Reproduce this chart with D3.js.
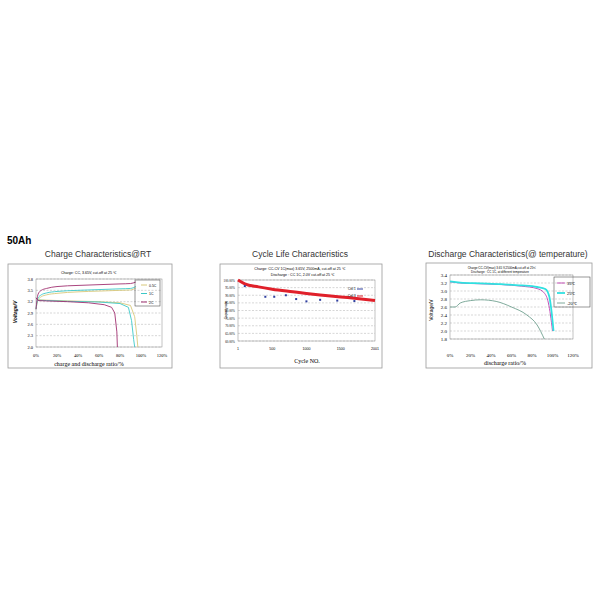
<!DOCTYPE html><html><head><script src="https://cdn.jsdelivr.net/npm/d3@7"></script>
<style>body{margin:0;background:#fff}svg{font-family:"Liberation Sans",Arial,sans-serif}</style></head><body>
<svg id="s" width="600" height="600"></svg>
<script>
// Chart 1: charge/discharge voltage vs ratio %
const c1Ticks=[2.0,2.3,2.6,2.9,3.2,3.5,3.8];
const c1Series=["0.5C","1C","2C"];
const c1Colors=["#d8c87a","#3cc8c8","#a03070"];
const c1ChargeX=[[0,2,5,10,20,40,60,80,90,95],[0,2,5,10,20,40,60,80,90,95],[0,2,5,10,20,40,60,80,90,95]];
const c1ChargeY=[[3.0,3.25,3.33,3.38,3.42,3.46,3.48,3.5,3.51,3.56],[3.0,3.3,3.38,3.43,3.47,3.5,3.52,3.54,3.55,3.6],[3.0,3.4,3.5,3.55,3.6,3.63,3.65,3.67,3.68,3.72]];
const c1DisX=[[0,2,10,30,60,80,90,94,96,97],[0,2,10,30,60,80,88,91,93,94],[0,2,10,30,50,65,72,75,77,77.5]];
const c1DisY=[[3.3,3.25,3.24,3.22,3.2,3.17,3.1,2.8,2.3,2.0],[3.3,3.24,3.23,3.21,3.19,3.15,3.05,2.7,2.2,2.0],[3.3,3.23,3.22,3.2,3.17,3.12,3.05,2.9,2.4,2.0]];
// Chart 2: cycle life
const c2Ticks=[60,65,70,75,80,85,90,95,100];
const c2XTicks=[1,500,1000,1500,2001];
const c2X=[1,100,300,500,800,1000,1200,1500,1800,2001];
const c2Y=[100,97.5,95.5,94,92.3,91.2,90.2,88.9,87.6,86.6];
const c2DotX=[100,400,530,700,850,1000,1200,1450,1700];
const c2DotY=[96,89,89,90,87.5,86,87,86.5,86.2];
// Chart 3: discharge at temperature
const c3Ticks=[1.8,2.0,2.2,2.4,2.6,2.8,3.0,3.2,3.4];
const c3XTicks=[0,20,40,60,80,100,120];
const c3Series=["35℃","25℃","-20℃"];
const c3Colors=["#c040b0","#30e0e0","#70a090"];
const c3X=[[0,10,30,50,70,85,92,96,98,100],[0,10,30,50,70,85,93,97,99,101],[0,5,10,20,30,45,60,75,85,92]];
const c3Y=[[3.23,3.2,3.18,3.16,3.12,3.06,2.95,2.7,2.4,2.0],[3.24,3.21,3.19,3.17,3.14,3.1,3.05,2.85,2.5,2.0],[2.6,2.6,2.7,2.76,2.78,2.74,2.6,2.4,2.15,1.8]];

const svg=d3.select("#s");
svg.append("text").attr("x",7).attr("y",244).attr("font-size",10).attr("font-weight","bold").text("50Ah");
function frame(x,y,w,h,title,tx){
  svg.append("text").attr("x",tx).attr("y",257).attr("text-anchor","middle").attr("font-size",8.5).attr("fill","#333").text(title);
  svg.append("rect").attr("x",x).attr("y",y).attr("width",w).attr("height",h).attr("fill","#fff").attr("stroke","#999").attr("stroke-width",0.8);
}
function grid(g,y,ticks,x0,x1,fmt,fs){
  ticks.forEach(t=>{g.append("line").attr("x1",x0).attr("x2",x1).attr("y1",y(t)).attr("y2",y(t)).attr("stroke","#999").attr("stroke-width",0.4).attr("stroke-dasharray","2,1.5");
  g.append("text").attr("x",x0-3).attr("y",y(t)+1.5).attr("text-anchor","end").attr("font-size",fs).attr("font-family","Liberation Serif").text(fmt(t));});
}
const line=(x,y)=>d3.line().x(d=>x(d[0])).y(d=>y(d[1])).curve(d3.curveMonotoneX);
// chart 1
frame(8,264,164,104,"Charge Characteristics@RT",98);
{const g=svg.append("g");const x=d3.scaleLinear([0,120],[36,162]),y=d3.scaleLinear([2.0,3.8],[347,279]);
grid(g,y,c1Ticks,36,162,d=>d.toFixed(1),4.5);
g.append("rect").attr("x",36).attr("y",279).attr("width",126).attr("height",68).attr("fill","none").attr("stroke","#888").attr("stroke-width",0.5);
[0,20,40,60,80,100,120].forEach(t=>g.append("text").attr("x",x(t)).attr("y",357).attr("text-anchor","middle").attr("font-size",4.5).attr("font-family","Liberation Serif").text(t+"%"));
c1Series.forEach((s,i)=>{
 g.append("path").attr("d",line(x,y)(d3.zip(c1ChargeX[i],c1ChargeY[i]))).attr("fill","none").attr("stroke",c1Colors[i]).attr("stroke-width",0.9);
 g.append("path").attr("d",d3.line().x(d=>x(d[0])).y(d=>y(d[1]))(d3.zip(c1DisX[i],c1DisY[i]))).attr("fill","none").attr("stroke",c1Colors[i]).attr("stroke-width",0.9);
 g.append("line").attr("x1",141).attr("x2",147).attr("y1",285+i*8.5).attr("y2",285+i*8.5).attr("stroke",c1Colors[i]);
 g.append("text").attr("x",149).attr("y",286.5+i*8.5).attr("font-size",3.5).text(s);});
g.append("rect").attr("x",135).attr("y",280).attr("width",25).attr("height",26).attr("fill","#fff").attr("fill-opacity",0).attr("stroke","#333").attr("stroke-width",0.5);
g.append("text").attr("x",89).attr("y",274).attr("text-anchor","middle").attr("font-size",3.6).text("Charge: CC, 3.65V, cut-off at  25 ℃");
g.append("text").attr("x",89).attr("y",366).attr("text-anchor","middle").attr("font-size",6).attr("font-family","Liberation Serif").text("charge and discharge ratio/%");
g.append("text").attr("transform","translate(17,312) rotate(-90)").attr("text-anchor","middle").attr("font-size",5).attr("font-style","italic").attr("font-weight","bold").text("Voltage/V");}
// chart 2
frame(220,264,162,104,"Cycle Life Characteristics",300);
{const g=svg.append("g");const x=d3.scaleLinear([1,2001],[238,375]),y=d3.scaleLinear([60,100],[341,280]);
grid(g,y,c2Ticks,238,375,d=>d.toFixed(2)+"%",3.2);
g.append("rect").attr("x",238).attr("y",280).attr("width",137).attr("height",61).attr("fill","none").attr("stroke","#888").attr("stroke-width",0.5);
c2XTicks.forEach(t=>g.append("text").attr("x",x(t)).attr("y",350).attr("text-anchor","middle").attr("font-size",3.6).text(t));
g.append("path").attr("d",line(x,y)(d3.zip(c2X,c2Y))).attr("fill","none").attr("stroke","#e0202a").attr("stroke-width",3);
g.selectAll(".d").data(d3.zip(c2DotX,c2DotY)).join("rect").attr("x",d=>x(d[0])-1).attr("y",d=>y(d[1])-1).attr("width",2).attr("height",2).attr("fill","#3040a0");
["Cell 1","Cell 3"].forEach((s,i)=>{g.append("text").attr("x",348).attr("y",290+i*7).attr("font-size",3).text(s);
 g.append("line").attr("x1",357).attr("x2",363).attr("y1",289+i*7).attr("y2",289+i*7).attr("stroke",i?"#e0202a":"#3040a0");});
g.append("text").attr("x",300).attr("y",270).attr("text-anchor","middle").attr("font-size",3.6).text("Charge: CC-CV 1C(max) 3.65V, 2500mA, cut-off at 25 ℃");
g.append("text").attr("x",303).attr("y",275.5).attr("text-anchor","middle").attr("font-size",3.6).text("Discharge : CC 1C, 2.0V cut-off at 25 ℃");
g.append("text").attr("x",307).attr("y",363).attr("text-anchor","middle").attr("font-size",6).attr("font-family","Liberation Serif").text("Cycle NO.");
g.append("text").attr("transform","translate(227,310) rotate(-90)").attr("text-anchor","middle").attr("font-size",3).text("Capacity ratio");}
// chart 3
frame(426,263,166,105,"Discharge Characteristics(@ temperature)",508);
{const g=svg.append("g");const x=d3.scaleLinear([0,120],[450,573]),y=d3.scaleLinear([1.8,3.4],[339,275]);
grid(g,y,c3Ticks,450,573,d=>d.toFixed(1),5);
g.append("rect").attr("x",450).attr("y",275).attr("width",123).attr("height",64).attr("fill","none").attr("stroke","#888").attr("stroke-width",0.5);
c3XTicks.forEach(t=>g.append("text").attr("x",x(t)).attr("y",357).attr("text-anchor","middle").attr("font-size",5).attr("font-family","Liberation Serif").text(t+"%"));
c3Series.forEach((s,i)=>{g.append("path").attr("d",line(x,y)(d3.zip(c3X[i],c3Y[i]))).attr("fill","none").attr("stroke",c3Colors[i]).attr("stroke-width",i==1?1.8:0.9);
 g.append("line").attr("x1",557).attr("x2",565).attr("y1",283+i*10).attr("y2",283+i*10).attr("stroke",c3Colors[i]).attr("stroke-width",i==1?1.8:0.9);
 g.append("text").attr("x",567).attr("y",285+i*10).attr("font-size",4).text(s);});
g.append("rect").attr("x",554).attr("y",277).attr("width",36).attr("height",30).attr("fill","none").attr("stroke","#333").attr("stroke-width",0.5);
g.append("text").attr("x",502).attr("y",268.5).attr("text-anchor","middle").attr("font-size",3).text("Charge:CC-CV(max) 3.65 V,2500mA,cut-off at 25℃");
g.append("text").attr("x",500).attr("y",272.5).attr("text-anchor","middle").attr("font-size",3).text("Discharge : CC 1C, at  different  temperature");
g.append("text").attr("x",505).attr("y",365).attr("text-anchor","middle").attr("font-size",6).attr("font-family","Liberation Serif").text("discharge ratio/%");
g.append("text").attr("transform","translate(433,310) rotate(-90)").attr("text-anchor","middle").attr("font-size",5).text("Voltage/V");}
</script></body></html>
